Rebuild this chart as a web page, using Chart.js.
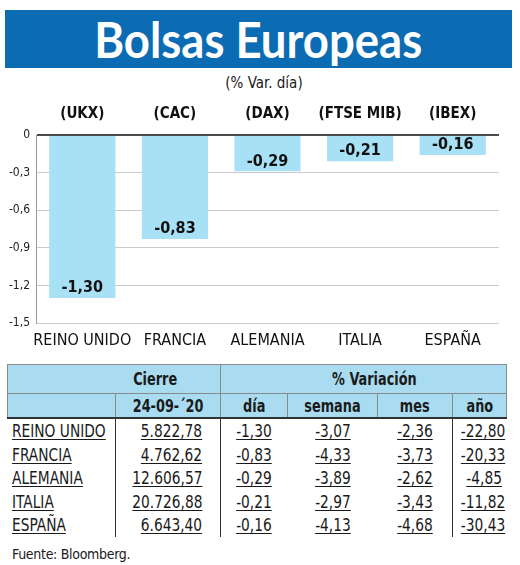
<!DOCTYPE html>
<html>
<head>
<meta charset="utf-8">
<script src="https://cdn.jsdelivr.net/npm/chart.js@4.4.0/dist/chart.umd.min.js"></script>
<style>
  :root { --f: 'Liberation Sans Narrow', 'DejaVu Sans Condensed', 'Roboto', sans-serif; }
  body { margin: 0; width: 520px; height: 565px; background: #fff; position: relative; overflow: hidden; font-family: var(--f); color: #1a1a1a; }
  #banner { position: absolute; left: 5px; top: 10px; width: 507px; height: 58px; background: #0b6cb3; color: #fff; text-align: center; overflow: hidden; }
  #banner span { display: inline-block; font-family: 'Lato', var(--f); font-weight: bold; font-size: 50px; line-height: 58px; transform-origin: 50% 50%; }
  #sub { position: absolute; left: 0; top: 74px; width: 528px; text-align: center; font-size: 15px; }
  #cv { position: absolute; left: 0; top: 95px; }
  table { position: absolute; left: 7px; top: 364px; border-collapse: collapse; table-layout: fixed; width: 499px; font-size: 18px; }
  th { background: #a9dcf1; font-weight: bold; border: 1px solid #8a8a8a; padding: 0; font-size: 17px; }
  th span { display: inline-block; transform: scaleX(0.84); }
  tr.h1 th { height: 28px; }
  tr.h2 th { height: 23px; border-bottom: 2px solid #333; }
  td { height: 23.5px; padding: 0; white-space: nowrap; }
  td span { display: inline-block; text-decoration: underline; text-decoration-thickness: 1px; text-underline-offset: 2px; transform: scaleX(0.85); }
  td.name { text-align: left; padding-left: 4px; border-right: 1px solid #333; }
  td.name span { transform-origin: 0 50%; }
  td.close { text-align: right; padding-right: 18px; border-right: 1px solid #333; }
  td.close span, td.year span { transform-origin: 100% 50%; }
  td.c { text-align: center; }
  td.c3 { text-align: center; border-right: 1px solid #333; }
  td.year { text-align: right; padding-right: 5px; border-left: 1px solid #333; }
  #src { position: absolute; left: 12px; top: 546px; font-size: 14px; letter-spacing: -0.3px; }
</style>
</head>
<body>
<div id="banner"><span id="ttl">Bolsas Europeas</span></div>
<div id="sub">(% Var. día)</div>
<canvas id="cv" width="520" height="262"></canvas>
<table id="tbl">
  <colgroup><col style="width:108px"><col style="width:105px"><col style="width:67px"><col style="width:90px"><col style="width:75px"><col style="width:54px"></colgroup>
  <thead>
    <tr class="h1"><th colspan="2" style="padding-left:82px"><span>Cierre</span></th><th colspan="4" style="padding-left:22px"><span>% Variación</span></th></tr>
    <tr class="h2"><th></th><th><span>24-09-´20</span></th><th><span>día</span></th><th><span>semana</span></th><th><span>mes</span></th><th><span>año</span></th></tr>
  </thead>
  <tbody id="rows"></tbody>
</table>
<div id="src">Fuente: Bloomberg.</div>
<script>
const FONT = "'Liberation Sans Narrow', 'DejaVu Sans Condensed', 'Roboto', sans-serif";

const categories = ['REINO UNIDO', 'FRANCIA', 'ALEMANIA', 'ITALIA', 'ESPAÑA'];
const tickers = ['(UKX)', '(CAC)', '(DAX)', '(FTSE MIB)', '(IBEX)'];
const dayChange = [-1.30, -0.83, -0.29, -0.21, -0.16];
const yTicks = [0, -0.3, -0.6, -0.9, -1.2, -1.5];

// tabla
const closeValues = [5822.78, 4762.62, 12606.57, 20726.88, 6643.40];
const weekChange = [-3.07, -4.33, -3.89, -2.97, -4.13];
const monthChange = [-2.36, -3.73, -2.62, -3.43, -4.68];
const yearChange = [-22.80, -20.33, -4.85, -11.82, -30.43];

const fmt = (v, d = 2) => {
  const [i, f] = Math.abs(v).toFixed(d).split('.');
  const int = i.replace(/\B(?=(\d{3})+(?!\d))/g, '.');
  return (v < 0 ? '-' : '') + int + (f ? ',' + f : '');
};

// ajustar el titulo al ancho del original
const ttl = document.getElementById('ttl');
ttl.style.transform = 'scaleX(' + (328 / ttl.getBoundingClientRect().width) + ')';

const rows = document.getElementById('rows');
categories.forEach((name, i) => {
  const tr = document.createElement('tr');
  tr.innerHTML =
    `<td class="name"><span>${name}</span></td>` +
    `<td class="close"><span>${fmt(closeValues[i])}</span></td>` +
    `<td class="c"><span>${fmt(dayChange[i])}</span></td>` +
    `<td class="c"><span>${fmt(weekChange[i])}</span></td>` +
    `<td class="c3"><span>${fmt(monthChange[i])}</span></td>` +
    `<td class="year"><span>${fmt(yearChange[i])}</span></td>`;
  rows.appendChild(tr);
});

const valueLabels = {
  id: 'valueLabels',
  afterDatasetsDraw(chart) {
    const { ctx } = chart;
    const meta = chart.getDatasetMeta(0);
    ctx.save();
    ctx.font = 'bold 16px ' + FONT;
    ctx.fillStyle = '#111';
    ctx.textAlign = 'center';
    ctx.textBaseline = 'middle';
    meta.data.forEach((bar, i) => {
      ctx.fillText(fmt(dayChange[i]), bar.x, bar.y - 10);
    });
    ctx.restore();
  },
};

new Chart(document.getElementById('cv'), {
  type: 'bar',
  data: {
    labels: categories,
    datasets: [
      {
        data: dayChange,
        backgroundColor: '#a8e0f6',
        borderWidth: 0,
        barPercentage: 0.715,
        categoryPercentage: 1,
      },
    ],
  },
  options: {
    responsive: false,
    animation: false,
    layout: { padding: { right: 21, left: 0, top: 0, bottom: 0 } },
    plugins: { legend: { display: false }, tooltip: { enabled: false } },
    scales: {
      x: {
        position: 'bottom',
        offset: true,
        grid: { display: false, drawTicks: false },
        border: { display: false },
        ticks: { color: '#111', font: { family: FONT, size: 16 }, padding: 8, maxRotation: 0, autoSkip: false },
        afterFit: (s) => { s.height = 34; },
      },
      x2: {
        type: 'category',
        position: 'top',
        labels: tickers,
        offset: true,
        grid: { display: false, drawTicks: false },
        border: { display: false },
        ticks: { color: '#111', font: { family: FONT, size: 15, weight: 'bold' }, padding: 12, maxRotation: 0, autoSkip: false },
        afterFit: (s) => { s.height = 40; },
      },
      y: {
        min: -1.5,
        max: 0,
        afterBuildTicks: (s) => { s.ticks = yTicks.map((v) => ({ value: v })); },
        grid: {
          drawTicks: false,
          color: (c) => (c.tick && c.tick.value === 0 ? '#4a4a4a' : '#c9c9c9'),
          lineWidth: (c) => (c.tick && c.tick.value === 0 ? 2 : 1),
        },
        border: { display: true, color: '#9a9a9a', width: 1 },
        ticks: {
          color: '#222',
          font: { family: FONT, size: 12 },
          padding: 6,
          callback: (v) => (v === 0 ? '0' : fmt(v, 1)),
        },
        afterFit: (s) => { s.width = 36; },
      },
    },
  },
  plugins: [valueLabels],
});
</script>
</body>
</html>
